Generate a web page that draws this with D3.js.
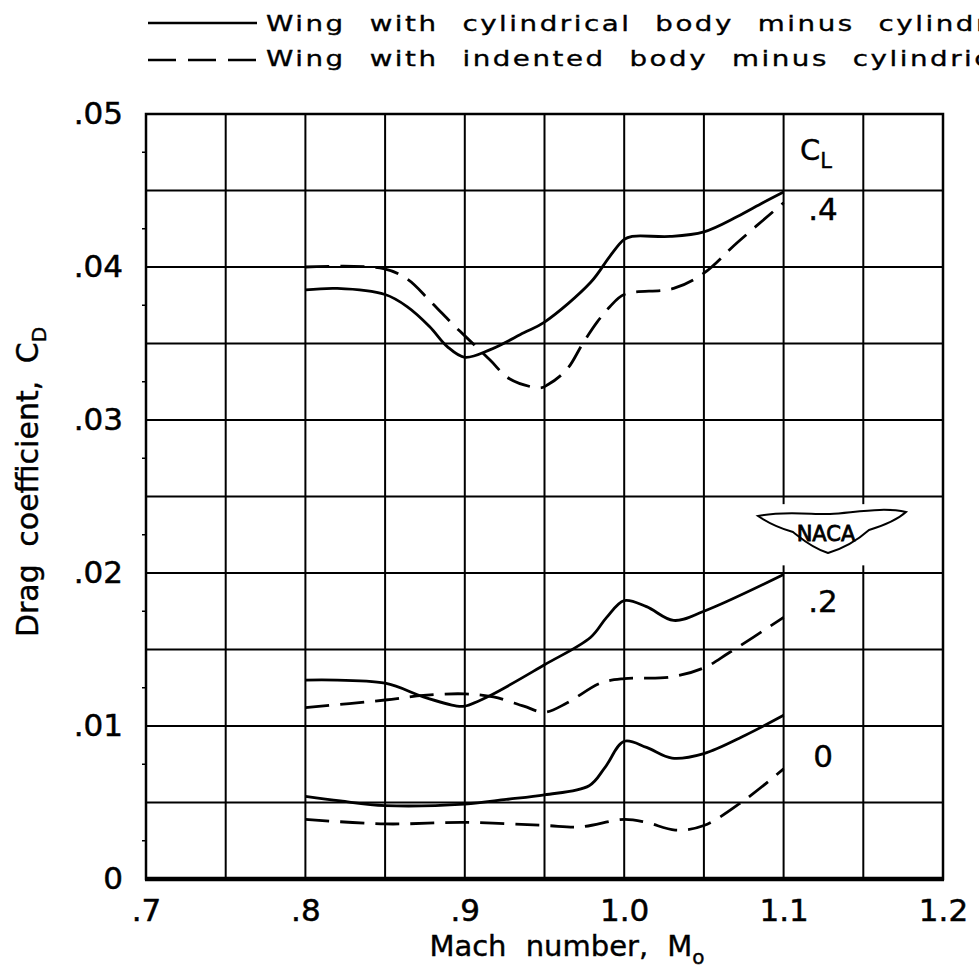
<!DOCTYPE html>
<html>
<head>
<meta charset="utf-8">
<script src="https://cdn.jsdelivr.net/npm/d3@7"></script>
<style>
  body { margin: 0; background: #fff; }
  svg { display: block; font-family: "DejaVu Sans", sans-serif; }
</style>
</head>
<body>
<div class="chart"></div>
<script>
// values
var xTicks = [0.7, 0.8, 0.9, 1.0, 1.1, 1.2];
var xTickLabels = [".7", ".8", ".9", "1.0", "1.1", "1.2"];
var yTicks = [0, 0.01, 0.02, 0.03, 0.04, 0.05];
var yTickLabels = ["0", ".01", ".02", ".03", ".04", ".05"];
var clLabels = [".4", ".2", "0"];

// wing with cylindrical body (solid)
var cylMach04 = [0.80, 0.82, 0.85, 0.864, 0.878, 0.889, 0.90, 0.916, 0.937, 0.95, 0.979, 0.991, 1.00, 1.005, 1.029, 1.05, 1.071, 1.087, 1.10];
var cylCD04   = [0.0385, 0.0386, 0.0382, 0.0374, 0.0361, 0.0348, 0.0341, 0.0346, 0.0357, 0.0364, 0.0390, 0.0407, 0.0418, 0.0420, 0.0420, 0.0423, 0.0433, 0.0442, 0.0449];
var cylMach02 = [0.80, 0.85, 0.874, 0.895, 0.90, 0.916, 0.95, 0.979, 0.989, 1.00, 1.014, 1.031, 1.05, 1.10];
var cylCD02   = [0.0130, 0.0128, 0.0119, 0.0113, 0.0113, 0.0120, 0.0140, 0.0158, 0.0171, 0.0182, 0.0178, 0.0169, 0.0175, 0.0199];
var cylMach00 = [0.80, 0.822, 0.85, 0.90, 0.926, 0.95, 0.978, 0.988, 1.00, 1.014, 1.03, 1.05, 1.076, 1.10];
var cylCD00   = [0.0054, 0.0051, 0.0048, 0.0049, 0.0052, 0.0055, 0.0061, 0.0073, 0.0090, 0.0086, 0.0079, 0.0082, 0.0094, 0.0107];

// wing with indented body (dashed)
var indMach04 = [0.80, 0.849, 0.864, 0.878, 0.893, 0.901, 0.916, 0.928, 0.947, 0.952, 0.964, 0.974, 0.983, 0.991, 1.00, 1.031, 1.05, 1.071, 1.10];
var indCD04   = [0.0400, 0.0399, 0.0392, 0.0378, 0.0362, 0.0354, 0.0339, 0.0327, 0.0321, 0.0323, 0.0333, 0.0350, 0.0364, 0.0374, 0.0382, 0.0386, 0.0396, 0.0416, 0.0442];
var indMach02 = [0.80, 0.85, 0.874, 0.90, 0.918, 0.937, 0.95, 0.964, 0.985, 1.00, 1.029, 1.05, 1.066, 1.10];
var indCD02   = [0.0112, 0.0117, 0.0120, 0.0121, 0.0119, 0.0113, 0.0109, 0.0115, 0.0128, 0.0131, 0.0132, 0.0138, 0.0148, 0.0171];
var indMach00 = [0.80, 0.85, 0.90, 0.95, 0.972, 1.00, 1.014, 1.032, 1.05, 1.076, 1.10];
var indCD00   = [0.0039, 0.0036, 0.0037, 0.0035, 0.0034, 0.0039, 0.0037, 0.0032, 0.0035, 0.0052, 0.0072];

var legendNames = ["Wing with cylindrical body minus cylindrical body",
                   "Wing with indented body minus cylindrical body"];

function zip(ms, cds) {
    return ms.map(function(m, i) { return {m: m, cd: cds[i]}; });
}

var series = [
    {pts: zip(cylMach04, cylCD04), dashed: false},
    {pts: zip(cylMach02, cylCD02), dashed: false},
    {pts: zip(cylMach00, cylCD00), dashed: false},
    {pts: zip(indMach04, indCD04), dashed: true},
    {pts: zip(indMach02, indCD02), dashed: true},
    {pts: zip(indMach00, indCD00), dashed: true}
];

var W = 979, H = 973;
var pL = 146, pR = 943, pT = 114, pB = 879;

var svg = d3.select(".chart").append("svg")
    .attr("width", W)
    .attr("height", H);

var x = d3.scaleLinear().domain([0.7, 1.2]).range([pL, pR]);
var y = d3.scaleLinear().domain([0, 0.05]).range([pB, pT]);

// grid
var g = svg.append("g").attr("stroke", "#000").attr("stroke-width", 2);
g.selectAll(".vx").data(d3.range(0, 11).map(function(i) { return 0.7 + i * 0.05; }))
    .enter().append("line")
    .attr("x1", d => x(d)).attr("x2", d => x(d))
    .attr("y1", pT).attr("y2", pB);
g.selectAll(".hy").data(d3.range(0, 11).map(function(i) { return i * 0.005; }))
    .enter().append("line")
    .attr("x1", pL).attr("x2", pR)
    .attr("y1", d => y(d)).attr("y2", d => y(d));

// small ticks on the left edge
g.selectAll(".mt").data(d3.range(0, 10).map(function(i) { return 0.0025 + i * 0.005; }))
    .enter().append("line")
    .attr("x1", pL - 4).attr("x2", pL)
    .attr("y1", d => y(d)).attr("y2", d => y(d))
    .attr("stroke-width", 1.5);

// NACA wing logo (white patch hides the grid behind it)
var logo = svg.append("g");
logo.append("rect")
    .attr("x", 752).attr("y", y(0.0245))
    .attr("width", 160).attr("height", y(0.0205) - y(0.0245))
    .attr("fill", "#fff");
logo.append("path")
    .attr("d", "M758,516 C785,510 815,515 830,514 C858,512 884,507 906,512 " +
               "C896,521 882,526 869,530 C860,538 848,547 828,553 " +
               "C810,547 801,538 793,532 C779,528 767,522 758,516 Z")
    .attr("fill", "#fff").attr("stroke", "#000").attr("stroke-width", 2);
logo.append("text")
    .attr("x", 826).attr("y", 541)
    .attr("text-anchor", "middle")
    .attr("font-size", 21)
    .attr("stroke", "#000").attr("stroke-width", 0.8)
    .text("NACA");

// frame
svg.append("rect")
    .attr("x", pL).attr("y", pT)
    .attr("width", pR - pL).attr("height", pB - pT)
    .attr("fill", "none").attr("stroke", "#000").attr("stroke-width", 2.5);
svg.append("line")
    .attr("x1", pL - 1).attr("x2", pR + 1)
    .attr("y1", pB).attr("y2", pB)
    .attr("stroke", "#000").attr("stroke-width", 4.5);

// axes (labels only)
var xAxis = svg.append("g")
    .attr("transform", "translate(0," + pB + ")")
    .call(d3.axisBottom(x).tickValues(xTicks).tickSize(0).tickPadding(20)
        .tickFormat(function(d, i) { return xTickLabels[i]; }));
var yAxis = svg.append("g")
    .attr("transform", "translate(" + pL + ",0)")
    .call(d3.axisLeft(y).tickValues(yTicks).tickSize(0).tickPadding(23)
        .tickFormat(function(d, i) { return yTickLabels[i]; }));
[xAxis, yAxis].forEach(function(a) {
    a.select(".domain").remove();
    a.selectAll("text")
        .attr("font-family", "DejaVu Sans")
        .attr("font-size", 31)
        .attr("fill", "#000")
        .attr("stroke", "#000")
        .attr("stroke-width", 0.5);
});

// curves
var line = d3.line()
    .x(d => x(d.m))
    .y(d => y(d.cd))
    .curve(d3.curveCatmullRom.alpha(0.5));

svg.selectAll(".curve").data(series)
    .enter().append("path")
    .attr("class", "curve")
    .attr("d", d => line(d.pts))
    .attr("fill", "none")
    .attr("stroke", "#000")
    .attr("stroke-width", 2.8)
    .attr("stroke-dasharray", d => d.dashed ? "24,11" : null);

// C_L labels
var cl = svg.append("text")
    .attr("x", 800).attr("y", 160)
    .attr("font-size", 29)
    .attr("stroke", "#000").attr("stroke-width", 0.4);
cl.append("tspan").text("C");
cl.append("tspan").attr("font-size", 21).attr("dy", 8).text("L");

var clY = [0.0431, 0.01745, 0.0073];
svg.selectAll(".cl").data(clLabels)
    .enter().append("text")
    .attr("x", 823)
    .attr("y", (d, i) => y(clY[i]))
    .attr("text-anchor", "middle")
    .attr("font-size", 31)
    .attr("stroke", "#000").attr("stroke-width", 0.4)
    .text(d => d);

// legend
var legend = svg.append("g");
legend.append("line")
    .attr("x1", 148).attr("x2", 257).attr("y1", 23).attr("y2", 23)
    .attr("stroke", "#000").attr("stroke-width", 2.5);
legend.append("line")
    .attr("x1", 148).attr("x2", 257).attr("y1", 60).attr("y2", 60)
    .attr("stroke", "#000").attr("stroke-width", 2.5)
    .attr("stroke-dasharray", "28,12");
legend.selectAll("text").data(legendNames)
    .enter().append("text")
    .attr("transform", (d, i) => "translate(266," + (31 + i * 35) + ") scale(1.26,1)")
    .attr("font-size", 22)
    .attr("stroke", "#000").attr("stroke-width", 0.35)
    .style("letter-spacing", "2px")
    .style("word-spacing", "10px")
    .text(d => d);

// axis titles
var xt = svg.append("text")
    .attr("x", 567).attr("y", 956)
    .attr("text-anchor", "middle")
    .attr("font-size", 29)
    .attr("stroke", "#000").attr("stroke-width", 0.4)
    .style("word-spacing", "10px");
xt.append("tspan").text("Mach number, M");
xt.append("tspan").attr("font-size", 20).attr("dy", 8).text("o");

var yt = svg.append("text")
    .attr("transform", "translate(38,482) rotate(-90)")
    .attr("text-anchor", "middle")
    .attr("font-size", 30)
    .attr("stroke", "#000").attr("stroke-width", 0.4)
    .style("word-spacing", "8px");
yt.append("tspan").text("Drag coefficient, C");
yt.append("tspan").attr("font-size", 20).attr("dy", 8).text("D");
</script>
</body>
</html>
